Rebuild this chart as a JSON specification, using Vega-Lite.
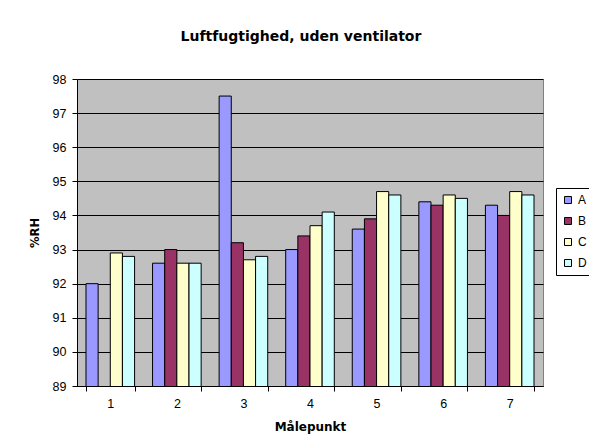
{
  "$schema": "https://vega.github.io/schema/vega-lite/v6.json",
  "width": 466,
  "height": 307,
  "autosize": {"type": "none"},
  "padding": {"left": 77, "top": 79, "right": 46, "bottom": 59},
  "background": "white",
  "config": {
    "font": "Liberation Sans",
    "view": {"fill": "#C0C0C0", "stroke": "#808080", "strokeWidth": 1}
  },
  "title": {
    "text": "Luftfugtighed, uden ventilator",
    "font": "DejaVu Sans",
    "fontSize": 14,
    "fontWeight": "bold",
    "color": "black",
    "anchor": "middle",
    "dx": -9,
    "offset": 29
  },
  "data": {
    "values": [
      {"punkt": "1", "serie": "A", "rh": 92.0},
      {"punkt": "1", "serie": "C", "rh": 92.9},
      {"punkt": "1", "serie": "D", "rh": 92.8},
      {"punkt": "2", "serie": "A", "rh": 92.6},
      {"punkt": "2", "serie": "B", "rh": 93.0},
      {"punkt": "2", "serie": "C", "rh": 92.6},
      {"punkt": "2", "serie": "D", "rh": 92.6},
      {"punkt": "3", "serie": "A", "rh": 97.5},
      {"punkt": "3", "serie": "B", "rh": 93.2},
      {"punkt": "3", "serie": "C", "rh": 92.7},
      {"punkt": "3", "serie": "D", "rh": 92.8},
      {"punkt": "4", "serie": "A", "rh": 93.0},
      {"punkt": "4", "serie": "B", "rh": 93.4},
      {"punkt": "4", "serie": "C", "rh": 93.7},
      {"punkt": "4", "serie": "D", "rh": 94.1},
      {"punkt": "5", "serie": "A", "rh": 93.6},
      {"punkt": "5", "serie": "B", "rh": 93.9},
      {"punkt": "5", "serie": "C", "rh": 94.7},
      {"punkt": "5", "serie": "D", "rh": 94.6},
      {"punkt": "6", "serie": "A", "rh": 94.4},
      {"punkt": "6", "serie": "B", "rh": 94.3},
      {"punkt": "6", "serie": "C", "rh": 94.6},
      {"punkt": "6", "serie": "D", "rh": 94.5},
      {"punkt": "7", "serie": "A", "rh": 94.3},
      {"punkt": "7", "serie": "B", "rh": 94.0},
      {"punkt": "7", "serie": "C", "rh": 94.7},
      {"punkt": "7", "serie": "D", "rh": 94.6}
    ]
  },
  "mark": {"type": "bar", "stroke": "black", "strokeWidth": 1, "clip": true},
  "encoding": {
    "x": {
      "field": "punkt",
      "type": "nominal",
      "scale": {"paddingInner": 0.27, "paddingOuter": 0.135},
      "axis": {
        "title": "Målepunkt",
        "titleFont": "DejaVu Sans",
        "titleFontSize": 12,
        "titleFontWeight": "bold",
        "titleColor": "black",
        "titlePadding": 12,
        "labelAngle": 0,
        "labelFontSize": 12.5,
        "labelColor": "black",
        "labelPadding": 6,
        "tickBand": "extent",
        "tickSize": 5,
        "tickColor": "black",
        "domainColor": "black"
      }
    },
    "xOffset": {"field": "serie", "type": "nominal"},
    "y": {
      "field": "rh",
      "type": "quantitative",
      "scale": {"domain": [89, 98], "zero": false, "nice": false},
      "axis": {
        "title": "%RH",
        "titleFont": "DejaVu Sans",
        "titleFontSize": 11.5,
        "titleFontWeight": "bold",
        "titleColor": "black",
        "titlePadding": 12,
        "values": [89, 90, 91, 92, 93, 94, 95, 96, 97, 98],
        "labelFontSize": 12.5,
        "labelColor": "black",
        "labelPadding": 6,
        "tickSize": 5,
        "tickColor": "black",
        "domainColor": "black",
        "grid": true,
        "gridColor": "black",
        "gridOpacity": 1
      }
    },
    "color": {
      "field": "serie",
      "type": "nominal",
      "scale": {"domain": ["A", "B", "C", "D"], "range": ["#9999FF", "#993366", "#FFFFCC", "#CCFFFF"]},
      "legend": {
        "title": null,
        "orient": "none",
        "legendX": 479,
        "legendY": 109,
        "symbolType": "square",
        "symbolSize": 49,
        "symbolStrokeColor": "black",
        "symbolStrokeWidth": 1,
        "labelFontSize": 12,
        "labelColor": "black",
        "rowPadding": 9,
        "strokeColor": "black",
        "padding": 6
      }
    }
  }
}
